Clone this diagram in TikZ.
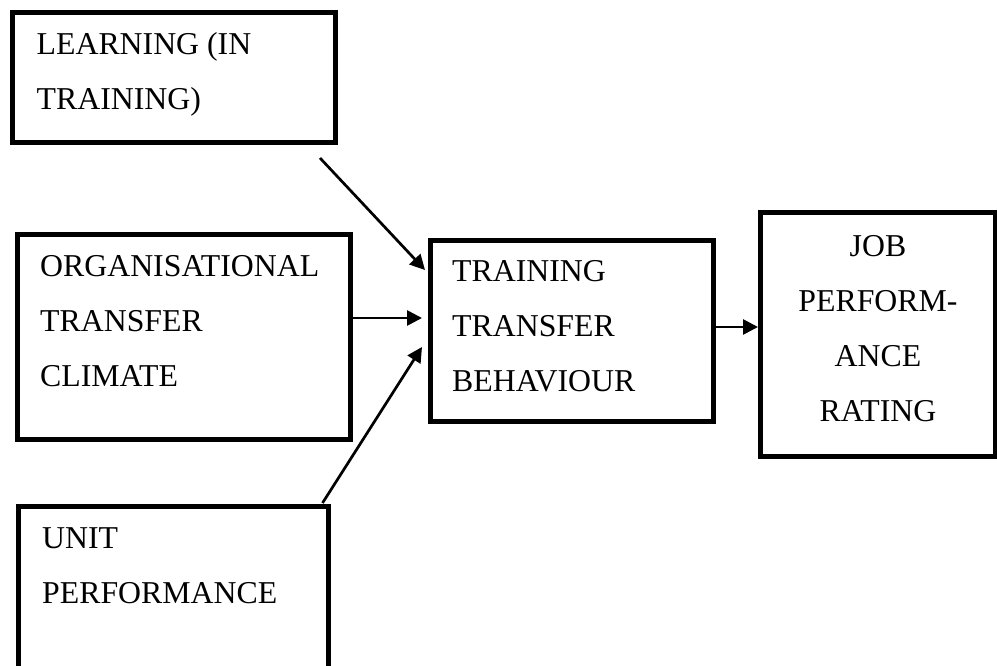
\documentclass[tikz,border=0pt]{standalone}
\usepackage{fontspec}
\setmainfont{Liberation Serif}
\usetikzlibrary{arrows.meta,calc}
\begin{document}
\begin{tikzpicture}[x=1pt,y=-1pt,
  box/.style={draw,line width=5pt,inner sep=0pt,rectangle},
  txt/.style={anchor=base west,inner sep=0pt,align=left,font=\fontsize{31.8}{55}\selectfont},
  ctxt/.style={anchor=base,inner sep=0pt,align=center,font=\fontsize{31.8}{55}\selectfont},
  arr/.style={line width=2.7pt,-{Triangle[length=15pt,width=15pt]}}]
\useasboundingbox (0,0) rectangle (997,666);
\clip (0,0) rectangle (997,666);
% boxes
\node[box,minimum width=323pt,minimum height=130pt] (b1) at (174,77.5) {};
\node[box,minimum width=333pt,minimum height=205pt] (b2) at (184,337) {};
\node[box,minimum width=310pt,minimum height=253.5pt] (b3) at (173,633.25) {};
\node[box,minimum width=283pt,minimum height=180.5pt] (b4) at (572,330.75) {};
\node[box,minimum width=234.5pt,minimum height=244pt] (b5) at (877.75,334.5) {};
% texts (anchored at the baseline of the last line)
\node[txt] (t1) at (36.5,109.3) {LEARNING (IN\\TRAINING)};
\node[txt] (t2) at (40,386.7) {ORGANISATIONAL\\TRANSFER\\CLIMATE};
\node[txt] (t3) at (42,603.3) {UNIT\\PERFORMANCE};
\node[txt] (t4) at (452,391.7) {TRAINING\\TRANSFER\\BEHAVIOUR};
\node[ctxt] (t5) at (878,421.7) {JOB\\PERFORM-\\ANCE\\RATING};
% connectors
\coordinate (a1s) at ($(b1.south east)+(-18,13)$);
\coordinate (a1e) at ($(b4.north west)+(-3,32)$);
\draw[arr] (a1s) -- (a1e);
\coordinate (y2) at (0,318);
\coordinate (a2e) at ($(b4.west |- y2)+(-6,0)$);
\draw[arr] (b2.east |- y2) -- (a2e);
\coordinate (a3s) at ($(b3.north east)+(-8,-1)$);
\coordinate (a3e) at ($(b4.south west)+(-6,-76.5)$);
\draw[arr] (a3s) -- (a3e);
\coordinate (y4) at (0,327);
\draw[arr] (b4.east |- y4) -- (b5.west |- y4);
\end{tikzpicture}
\end{document}
